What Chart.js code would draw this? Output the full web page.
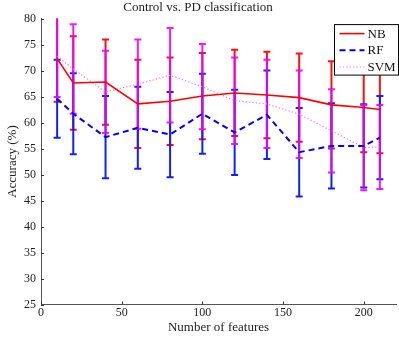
<!DOCTYPE html>
<html><head><meta charset="utf-8">
<script src="https://cdn.jsdelivr.net/npm/chart.js@4"></script>
<style>html,body{margin:0;padding:0;background:#fff}#wrap{width:399px;height:339px;position:relative}</style>
</head><body><div id="wrap"><canvas id="c"></canvas></div>
<script>
const features = [10, 20, 40, 60, 80, 100, 120, 140, 160, 180, 200, 210];
const nbMean  = [72.3, 67.6, 67.8, 63.6, 64.1, 65.1, 65.7, 65.3, 64.8, 63.4, 62.9, 62.5];
const nbErr   = [8.3, 9.0, 8.2, 8.5, 8.4, 8.3, 8.3, 8.3, 8.5, 8.4, 8.6, 8.4];
const rfMean  = [64.6, 61.7, 57.2, 59.0, 57.7, 61.7, 58.1, 61.5, 54.3, 55.5, 55.5, 57.1];
const rfErr   = [7.5, 7.8, 7.9, 7.9, 8.2, 7.7, 8.2, 8.5, 8.5, 8.2, 8.0, 8.0];
const svmMean = [72.8, 70.3, 65.9, 67.4, 69.1, 66.9, 64.2, 63.6, 61.6, 58.4, 55.2, 55.3];
const svmErr  = [7.9, 8.6, 7.9, 8.6, 9.1, 8.2, 8.3, 8.5, 8.4, 8.0, 8.2, 8.1];
const seriesNames = ['NB', 'RF', 'SVM'];
const xTicks = [0, 50, 100, 150, 200];
const yTicks = [25, 30, 35, 40, 45, 50, 55, 60, 65, 70, 75, 80];

const SERIF = "'Liberation Serif','Times New Roman',serif";
const pts = arr => arr.map((v, i) => ({x: features[i], y: v}));

const errorBars = {
  id: 'errorBars',
  beforeDatasetsDraw(chart) {
    const ctx = chart.ctx, a = chart.chartArea;
    const xs = chart.scales.x, ys = chart.scales.y;
    ctx.save();
    ctx.beginPath(); ctx.rect(a.left, a.top, a.right - a.left, a.bottom - a.top); ctx.clip();
    chart.data.datasets.forEach(ds => {
      ctx.strokeStyle = ds.barColor; ctx.lineWidth = 2; ctx.setLineDash([]);
      ds.data.forEach((p, i) => {
        const e = ds.errors[i];
        const x = xs.getPixelForValue(p.x);
        const yt = ys.getPixelForValue(p.y + e), yb = ys.getPixelForValue(p.y - e);
        ctx.beginPath();
        ctx.moveTo(x, yt); ctx.lineTo(x, yb);
        ctx.moveTo(x - 3.5, yt); ctx.lineTo(x + 3.5, yt);
        ctx.moveTo(x - 3.5, yb); ctx.lineTo(x + 3.5, yb);
        ctx.stroke();
      });
    });
    ctx.restore();
  }
};

const inwardTicks = {
  id: 'inwardTicks',
  afterDraw(chart) {
    const ctx = chart.ctx, a = chart.chartArea;
    const xs = chart.scales.x, ys = chart.scales.y;
    ctx.save();
    ctx.strokeStyle = '#333'; ctx.lineWidth = 1;
    ctx.beginPath();
    xTicks.forEach(t => { const x = Math.round(xs.getPixelForValue(t)) + 0.5; ctx.moveTo(x, a.bottom); ctx.lineTo(x, a.bottom - 3); });
    yTicks.forEach(t => { const y = Math.round(ys.getPixelForValue(t)) + 0.5; ctx.moveTo(a.left, y); ctx.lineTo(a.left + 3, y); });
    ctx.stroke();
    ctx.restore();
  }
};

const boxLegend = {
  id: 'boxLegend',
  afterDraw(chart) {
    const ctx = chart.ctx, a = chart.chartArea;
    const x0 = a.right - 61.5, y0 = a.top + 6, w = 64, h = 50.5;
    ctx.save();
    ctx.fillStyle = '#fff'; ctx.fillRect(x0, y0, w, h);
    ctx.strokeStyle = '#000'; ctx.lineWidth = 1; ctx.setLineDash([]);
    ctx.strokeRect(x0, y0, w, h);
    ctx.font = '13px ' + SERIF; ctx.textBaseline = 'middle'; ctx.fillStyle = '#111';
    chart.data.datasets.forEach((ds, i) => {
      const y = y0 + 9 + i * 16.7;
      ctx.strokeStyle = ds.borderColor; ctx.lineWidth = ds.borderWidth; ctx.setLineDash(ds.borderDash || []);
      ctx.beginPath(); ctx.moveTo(x0 + 5, y); ctx.lineTo(x0 + 30, y); ctx.stroke();
      ctx.setLineDash([]);
      ctx.fillText(ds.label, x0 + 33, y + 0.5);
    });
    ctx.restore();
  }
};

new Chart(document.getElementById('c'), {
  type: 'line',
  data: {
    datasets: [
      {label: seriesNames[0], data: pts(nbMean), errors: nbErr, borderColor: '#ff0000', barColor: '#ff1010', borderWidth: 1.6, pointRadius: 0, tension: 0},
      {label: seriesNames[1], data: pts(rfMean), errors: rfErr, borderColor: '#0000ff', barColor: '#1020ff', borderWidth: 2, borderDash: [6, 4], pointRadius: 0, tension: 0},
      {label: seriesNames[2], data: pts(svmMean), errors: svmErr, borderColor: '#ff66ff', barColor: 'rgba(240,0,250,0.9)', borderWidth: 1.2, borderDash: [1.2, 2.2], pointRadius: 0, tension: 0}
    ]
  },
  options: {
    responsive: true, maintainAspectRatio: false, animation: false,
    layout: {padding: {left: 0, right: 3, top: 0, bottom: 0}},
    plugins: {
      legend: {display: false}, tooltip: {enabled: false},
      title: {display: true, text: 'Control vs. PD classification', color: '#222', font: {family: SERIF, size: 13, weight: 'normal'}, padding: {top: 0, bottom: 3}}
    },
    scales: {
      x: {
        type: 'linear', min: 0, max: 220,
        afterBuildTicks: s => { s.ticks = xTicks.map(v => ({value: v})); },
        afterFit: s => { s.height = 34.5; },
        grid: {display: false, drawTicks: false, tickLength: 0}, border: {display: true, color: '#555', width: 1},
        ticks: {color: '#222', font: {family: SERIF, size: 12}, padding: 1, maxRotation: 0},
        title: {display: true, text: 'Number of features', color: '#222', font: {family: SERIF, size: 13}, padding: {top: 0, bottom: 4}}
      },
      y: {
        type: 'linear', min: 25, max: 80,
        afterBuildTicks: s => { s.ticks = yTicks.map(v => ({value: v})); },
        afterFit: s => { s.width = 41; },
        grid: {display: false, drawTicks: false, tickLength: 0}, border: {display: true, color: '#555', width: 1},
        ticks: {color: '#222', font: {family: SERIF, size: 12}, padding: 5},
        title: {display: true, text: 'Accuracy (%)', color: '#222', font: {family: SERIF, size: 13}, padding: {top: 5, bottom: 0}}
      }
    }
  },
  plugins: [errorBars, inwardTicks, boxLegend]
});
</script>
</body></html>
